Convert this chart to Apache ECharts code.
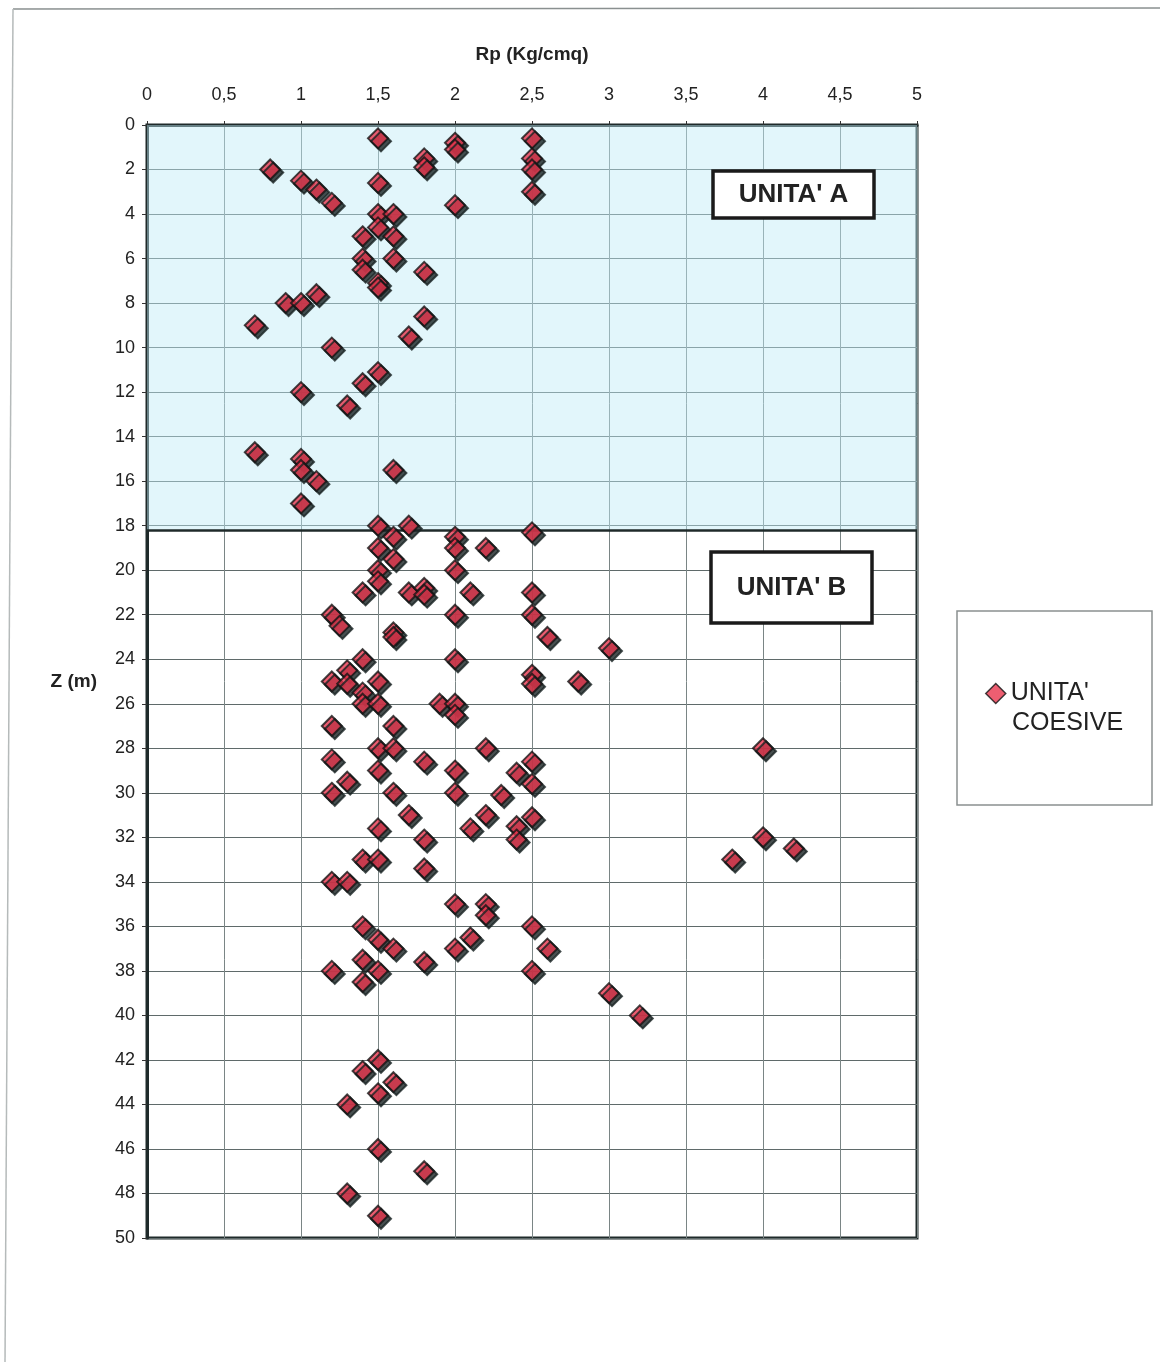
<!DOCTYPE html>
<html>
<head>
<meta charset="utf-8">
<script src="https://cdn.jsdelivr.net/npm/echarts@6/dist/echarts.min.js"></script>
<style>
html,body{margin:0;padding:0;background:#fff;}
#chart{width:1160px;height:1362px;}
</style>
</head>
<body>
<div id="chart"></div>
<script>
// Tick labels
const xTicks = [0, 0.5, 1, 1.5, 2, 2.5, 3, 3.5, 4, 4.5, 5];
const yTicks = [0, 2, 4, 6, 8, 10, 12, 14, 16, 18, 20, 22, 24, 26, 28, 30, 32, 34, 36, 38, 40, 42, 44, 46, 48, 50];
const seriesName = "UNITA' COESIVE";
const legendLines = ["UNITA'", "COESIVE"];
const unitLabels = ["UNITA' A", "UNITA' B"];
const unitABottom = 18.2;

// Unit A (0 - 18.2 m): Rp and depth
const rpUnitA = [1.5, 2.0, 2.0, 2.5, 1.8, 1.8, 2.5, 2.5, 2.5, 0.8, 1.0, 1.1, 1.2, 1.5, 2.0, 1.5, 1.6, 1.5, 1.4, 1.6, 1.4, 1.6, 1.4, 1.8, 1.5, 1.5, 1.1, 0.9, 1.0, 1.8, 0.7, 1.7, 1.2, 1.5, 1.4, 1.0, 1.3, 0.7, 1.0, 1.0, 1.1, 1.0, 1.6];
const zUnitA  = [0.6, 0.8, 1.1, 0.6, 1.5, 1.9, 1.5, 2.0, 3.0, 2.0, 2.5, 2.9, 3.5, 2.6, 3.6, 4.0, 4.0, 4.6, 5.0, 5.0, 6.0, 6.0, 6.5, 6.6, 7.1, 7.3, 7.6, 8.0, 8.0, 8.6, 9.0, 9.5, 10.0, 11.1, 11.6, 12.0, 12.6, 14.7, 15.0, 15.5, 16.0, 17.0, 15.5];

// Unit B (18.2 - 50 m): Rp and depth
const rpUnitB = [1.5, 1.7, 1.6, 1.5, 1.6, 1.5, 1.5, 1.4, 1.7, 1.8, 1.8, 2.0, 2.0, 2.2, 2.0, 2.1, 2.0, 2.5, 2.5, 2.5,
                 1.2, 1.25, 1.6, 1.6, 2.6, 3.0, 1.4, 2.0, 1.3, 1.2, 1.3, 1.5, 1.4, 1.4, 1.5, 1.9, 2.0, 2.0, 2.5, 2.5, 2.8,
                 1.2, 1.6, 1.5, 1.6, 2.2, 4.0, 1.2, 1.8, 2.5, 1.5, 2.0, 2.4, 1.3, 2.5, 1.2, 1.6, 2.0, 2.3,
                 1.7, 2.2, 2.5, 1.5, 2.1, 2.4, 1.8, 2.4, 4.0, 4.2, 3.8, 1.4, 1.5, 1.8, 1.2, 1.3,
                 2.0, 2.2, 2.2, 1.4, 2.5, 1.5, 2.1, 1.6, 2.0, 2.6, 1.4, 1.8, 1.2, 1.5, 2.5, 1.4, 3.0, 3.2,
                 1.5, 1.4, 1.6, 1.5, 1.3, 1.5, 1.8, 1.3, 1.5];
const zUnitB  = [18.0, 18.0, 18.5, 19.0, 19.5, 20.0, 20.5, 21.0, 21.0, 20.8, 21.1, 18.5, 19.0, 19.0, 20.0, 21.0, 22.0, 18.3, 21.0, 22.0,
                 22.0, 22.5, 22.8, 23.0, 23.0, 23.5, 24.0, 24.0, 24.5, 25.0, 25.1, 25.0, 25.5, 26.0, 26.0, 26.0, 26.0, 26.5, 24.7, 25.1, 25.0,
                 27.0, 27.0, 28.0, 28.0, 28.0, 28.0, 28.5, 28.6, 28.6, 29.0, 29.0, 29.1, 29.5, 29.6, 30.0, 30.0, 30.0, 30.1,
                 31.0, 31.0, 31.1, 31.6, 31.6, 31.5, 32.1, 32.1, 32.0, 32.5, 33.0, 33.0, 33.0, 33.4, 34.0, 34.0,
                 35.0, 35.0, 35.5, 36.0, 36.0, 36.6, 36.5, 37.0, 37.0, 37.0, 37.5, 37.6, 38.0, 38.0, 38.0, 38.5, 39.0, 40.0,
                 42.0, 42.5, 43.0, 43.5, 44.0, 46.0, 47.0, 48.0, 49.0];

const points = [];
rpUnitA.forEach((v, i) => points.push([v, zUnitA[i]]));
rpUnitB.forEach((v, i) => points.push([v, zUnitB[i]]));

const FONT = "'Liberation Sans', Arial, sans-serif";
const chart = echarts.init(document.getElementById('chart'), null, {renderer: 'canvas'});

chart.setOption({
  animation: false,
  backgroundColor: '#fff',
  grid: {
    left: 147, right: 243, top: 125, bottom: 124,
    show: true, borderColor: '#1f2a2a', borderWidth: 3, backgroundColor: 'transparent'
  },
  xAxis: {
    type: 'value', position: 'top', min: 0, max: 5, interval: 0.5,
    name: 'Rp (Kg/cmq)', nameLocation: 'middle', nameGap: 61,
    nameTextStyle: {fontFamily: FONT, fontSize: 19, color: '#222', fontWeight: 'bold'},
    axisLine: {show: true, lineStyle: {color: '#1f2a2a', width: 3}},
    axisTick: {show: true, length: 4, lineStyle: {color: '#333'}},
    axisLabel: {fontFamily: FONT, fontSize: 18, color: '#222', margin: 21,
      formatter: v => String(v).replace('.', ',')},
    splitLine: {show: true, lineStyle: {color: '#7a8585', width: 1}}
  },
  yAxis: {
    type: 'value', inverse: true, min: 0, max: 50, interval: 2,
    name: 'Z (m)', nameLocation: 'middle', nameGap: 50, nameRotate: 0,
    nameTextStyle: {fontFamily: FONT, fontSize: 19, color: '#222', fontWeight: 'bold'},
    axisLine: {show: true, lineStyle: {color: '#1f2a2a', width: 3}},
    axisTick: {show: true, length: 5, lineStyle: {color: '#333'}},
    axisLabel: {fontFamily: FONT, fontSize: 18, color: '#222', margin: 12},
    splitLine: {show: true, lineStyle: {color: '#5f6a6a', width: 1}}
  },
  legend: {
    show: true, left: 980, top: 676, orient: 'vertical',
    itemWidth: 20, itemHeight: 20, itemGap: 0,
    textStyle: {fontFamily: FONT, fontSize: 25, color: '#222'},
    formatter: () => legendLines[0],
    data: [{name: seriesName, icon: 'diamond',
            itemStyle: {shadowOffsetX: 0, shadowOffsetY: 0, borderWidth: 1.5}}]
  },
  series: [{
    name: seriesName,
    type: 'scatter',
    data: points,
    symbol: 'diamond',
    symbolSize: 20,
    z: 5,
    itemStyle: {
      color: '#e8364e', borderColor: '#141414', borderWidth: 2,
      shadowColor: 'rgba(25,35,35,1)', shadowOffsetX: 3, shadowOffsetY: 3, shadowBlur: 0
    },
    markArea: {
      silent: true,
      itemStyle: {color: 'rgba(190,236,246,0.45)'},
      data: [[{yAxis: 0}, {yAxis: unitABottom}]]
    },
    markLine: {
      silent: true, symbol: 'none', label: {show: false},
      lineStyle: {color: '#1f2a2a', width: 2.5, type: 'solid'},
      data: [{yAxis: unitABottom}]
    }
  }],
  graphic: [
    {type: 'line', shape: {x1: 13, y1: 9, x2: 1160, y2: 8}, style: {stroke: '#8a9090', lineWidth: 1.5}},
    {type: 'line', shape: {x1: 13, y1: 9, x2: 5, y2: 1362}, style: {stroke: '#b5baba', lineWidth: 1.5}},
    {type: 'rect', shape: {x: 957, y: 611, width: 195, height: 194},
     style: {fill: 'transparent', stroke: '#8a9090', lineWidth: 1.5}},
    {type: 'text', x: 1012, y: 711,
     style: {text: legendLines[1], fontFamily: FONT, fontSize: 25, fill: '#222',
             textAlign: 'left', textVerticalAlign: 'top'}},
    {type: 'rect', z: 100, zlevel: 1, shape: {x: 713, y: 171, width: 161, height: 47},
     style: {fill: '#ffffff', stroke: '#1a1a1a', lineWidth: 3.5}},
    {type: 'text', z: 101, zlevel: 1, x: 793.5, y: 195,
     style: {text: unitLabels[0], fontFamily: FONT, fontSize: 26, fontWeight: 'bold', fill: '#222',
             textAlign: 'center', textVerticalAlign: 'middle'}},
    {type: 'rect', z: 100, zlevel: 1, shape: {x: 711, y: 552, width: 161, height: 71},
     style: {fill: '#ffffff', stroke: '#1a1a1a', lineWidth: 3.5}},
    {type: 'text', z: 101, zlevel: 1, x: 791.5, y: 588,
     style: {text: unitLabels[1], fontFamily: FONT, fontSize: 26, fontWeight: 'bold', fill: '#222',
             textAlign: 'center', textVerticalAlign: 'middle'}}
  ]
});
</script>
</body>
</html>
